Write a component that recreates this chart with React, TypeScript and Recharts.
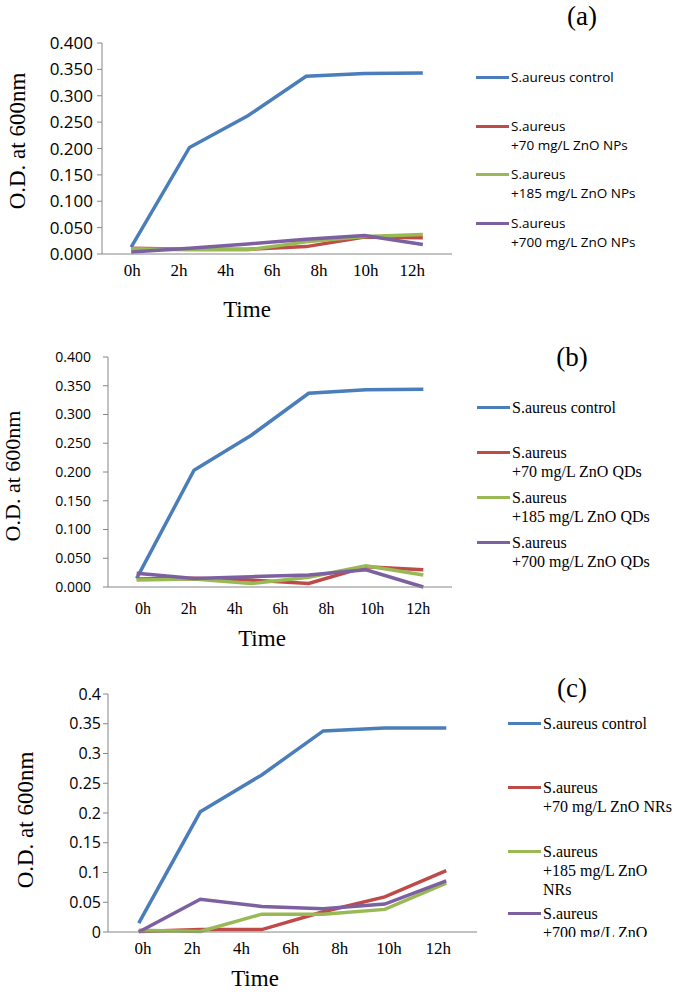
import { LineChart, Line, XAxis, YAxis } from 'recharts'

// sampling points (6 per series) and the time labels printed under each axis
const pointIndex = [0, 1, 2, 3, 4, 5]
const timeLabels = ['0h', '2h', '4h', '6h', '8h', '10h', '12h']
const yTicks = [0, 0.05, 0.1, 0.15, 0.2, 0.25, 0.3, 0.35, 0.4]

// (a) ZnO NPs
const npControl = [0.013, 0.202, 0.262, 0.337, 0.342, 0.343]
const np70 = [0.011, 0.009, 0.009, 0.014, 0.032, 0.031]
const np185 = [0.010, 0.008, 0.008, 0.023, 0.033, 0.037]
const np700 = [0.004, 0.011, 0.019, 0.028, 0.035, 0.018]

// (b) ZnO QDs
const qdControl = [0.015, 0.203, 0.264, 0.337, 0.343, 0.344]
const qd70 = [0.014, 0.015, 0.012, 0.006, 0.035, 0.030]
const qd185 = [0.012, 0.014, 0.006, 0.017, 0.037, 0.021]
const qd700 = [0.024, 0.015, 0.018, 0.021, 0.030, 0.000]

// (c) ZnO NRs
const nrControl = [0.015, 0.202, 0.264, 0.338, 0.343, 0.343]
const nr70 = [0.001, 0.004, 0.004, 0.034, 0.059, 0.103]
const nr185 = [0.003, 0.001, 0.030, 0.030, 0.038, 0.082]
const nr700 = [0.000, 0.055, 0.043, 0.039, 0.047, 0.086]

const colors = ['#4A7EBB', '#BE4B48', '#98B954', '#7D60A0']
const axisColor = '#868686'
const serif = '"Liberation Serif", "Times New Roman", serif'
const sans = '"Open Sans", "Liberation Sans", sans-serif'

const legendA = [
  ['S.aureus control'],
  ['S.aureus', '+70 mg/L ZnO NPs'],
  ['S.aureus', '+185 mg/L ZnO NPs'],
  ['S.aureus', '+700 mg/L ZnO NPs'],
]
const legendB = [
  ['S.aureus control'],
  ['S.aureus', '+70 mg/L ZnO QDs'],
  ['S.aureus', '+185 mg/L ZnO QDs'],
  ['S.aureus', '+700 mg/L ZnO QDs'],
]
// the last entry is cut off by the legend box in the original
const legendC = [
  ['S.aureus control'],
  ['S.aureus', '+70 mg/L ZnO NRs'],
  ['S.aureus', '+185 mg/L ZnO', 'NRs'],
  ['S.aureus', '+700 mg/L ZnO'],
]

type Plot = { x: number; y: number; w: number; h: number }

interface PanelProps {
  plot: Plot
  series: number[][]
  yFmt: (v: number) => string
  yFont: number
  yMargin: number
  labelStart: number
  labelStep: number
  labelFont: number
  labelOffset: number
}

function Panel({ plot, series, yFmt, yFont, yMargin, labelStart, labelStep, labelFont, labelOffset }: PanelProps) {
  const data = pointIndex.map((p, i) => ({
    x: p + 0.5,
    s0: series[0][i],
    s1: series[1][i],
    s2: series[2][i],
    s3: series[3][i],
  }))
  const labelTicks = timeLabels.map((_, k) => labelStart + k * labelStep)
  const topPad = 16
  const catH = 6
  const timeH = 40
  return (
    <div style={{ position: 'absolute', left: 0, top: plot.y - topPad }}>
      <LineChart
        width={plot.x + plot.w + 10}
        height={topPad + plot.h + catH + timeH}
        data={data}
        margin={{ top: topPad, right: 10, left: 0, bottom: 0 }}
      >
        <XAxis
          xAxisId="cat"
          type="number"
          dataKey="x"
          domain={[0, 6]}
          ticks={[0, 1, 2, 3, 4, 5, 6]}
          interval={0}
          tick={false}
          tickSize={5}
          height={catH}
          stroke={axisColor}
        />
        <XAxis
          xAxisId="time"
          type="number"
          dataKey="x"
          domain={[0, 6]}
          ticks={labelTicks}
          interval={0}
          axisLine={false}
          tickLine={false}
          tickSize={labelOffset}
          height={timeH}
          tickFormatter={(v: number) => timeLabels[Math.round((v - labelStart) / labelStep)]}
          tick={{ fontFamily: serif, fontSize: labelFont, fill: '#000' }}
        />
        <YAxis
          type="number"
          domain={[0, 0.4]}
          ticks={yTicks}
          interval={0}
          width={plot.x}
          tickSize={5}
          tickMargin={yMargin}
          stroke={axisColor}
          tickFormatter={yFmt}
          tick={{ fontFamily: sans, fontSize: yFont, fill: '#000' }}
        />
        {colors.map((c, i) => (
          <Line
            key={i}
            xAxisId="cat"
            type="linear"
            dataKey={`s${i}`}
            stroke={c}
            strokeWidth={3.5}
            dot={false}
            isAnimationActive={false}
          />
        ))}
      </LineChart>
    </div>
  )
}

function Legend({ x, rows, tops, font, size, clipBottom }: {
  x: number
  rows: string[][]
  tops: number[]
  font: string
  size: number
  clipBottom?: number
}) {
  const lh = 19
  const top0 = tops[0] - 12
  return (
    <div
      style={{
        position: 'absolute',
        left: x,
        top: top0,
        width: 675 - x,
        height: clipBottom ? clipBottom - top0 : 300,
        overflow: 'hidden',
      }}
    >
      {rows.map((lines, i) => (
        <div key={i} style={{ position: 'absolute', left: 0, top: tops[i] - top0 - lh / 2 }}>
          <div style={{ position: 'absolute', left: 0, top: lh / 2 - 1.5, width: 33, height: 3, background: colors[i] }} />
          {lines.map((t, j) => (
            <div
              key={j}
              style={{
                position: 'absolute',
                left: 35,
                top: j * lh,
                whiteSpace: 'nowrap',
                fontFamily: font,
                fontSize: size,
                lineHeight: `${lh}px`,
                color: '#000',
              }}
            >
              {t}
            </div>
          ))}
        </div>
      ))}
    </div>
  )
}

function Text({ x, y, size, children, rotate }: { x: number; y: number; size: number; children: string; rotate?: boolean }) {
  return (
    <div
      style={{
        position: 'absolute',
        left: x,
        top: y,
        transform: `translate(-50%, -50%)${rotate ? ' rotate(-90deg)' : ''}`,
        fontFamily: serif,
        fontSize: size,
        whiteSpace: 'nowrap',
        color: '#000',
        lineHeight: 1,
      }}
    >
      {children}
    </div>
  )
}

const fixed3 = (v: number) => v.toFixed(3)
const general = (v: number) => String(Number(v.toFixed(2)))

export default function App() {
  return (
    <div style={{ position: 'absolute', left: 0, top: 0, width: 675, height: 992, background: '#fff', overflow: 'hidden' }}>
      {/* (a) */}
      <Panel
        plot={{ x: 102, y: 43, w: 350, h: 211 }}
        series={[npControl, np70, np185, np700]}
        yFmt={fixed3}
        yFont={17}
        yMargin={4}
        labelStart={0.52}
        labelStep={0.8}
        labelFont={17}
        labelOffset={2}
      />
      <Text x={17} y={141} size={23} rotate>O.D. at 600nm</Text>
      <Text x={247} y={309} size={23}>Time</Text>
      <Text x={582} y={16} size={27}>(a)</Text>
      <Legend x={476} rows={legendA} tops={[77, 126, 174, 223]} font={sans} size={13.5} />

      {/* (b) */}
      <Panel
        plot={{ x: 108, y: 357, w: 344, h: 230 }}
        series={[qdControl, qd70, qd185, qd700]}
        yFmt={fixed3}
        yFont={14}
        yMargin={12}
        labelStart={0.61}
        labelStep={0.8}
        labelFont={16}
        labelOffset={8}
      />
      <Text x={13} y={476} size={22} rotate>O.D. at 600nm</Text>
      <Text x={262} y={638} size={23}>Time</Text>
      <Text x={572} y={357} size={27}>(b)</Text>
      <Legend x={477} rows={legendB} tops={[407, 452, 497, 542]} font={serif} size={16} />

      {/* (c) */}
      <Panel
        plot={{ x: 108, y: 694, w: 369, h: 238 }}
        series={[nrControl, nr70, nr185, nr700]}
        yFmt={general}
        yFont={16}
        yMargin={2}
        labelStart={0.57}
        labelStep={0.8}
        labelFont={17}
        labelOffset={2}
      />
      <Text x={25} y={820} size={23} rotate>O.D. at 600nm</Text>
      <Text x={255} y={978} size={23}>Time</Text>
      <Text x={572} y={688} size={27}>(c)</Text>
      <Legend x={508} rows={legendC} tops={[723, 787, 851, 913]} font={serif} size={16} clipBottom={937} />
    </div>
  )
}
